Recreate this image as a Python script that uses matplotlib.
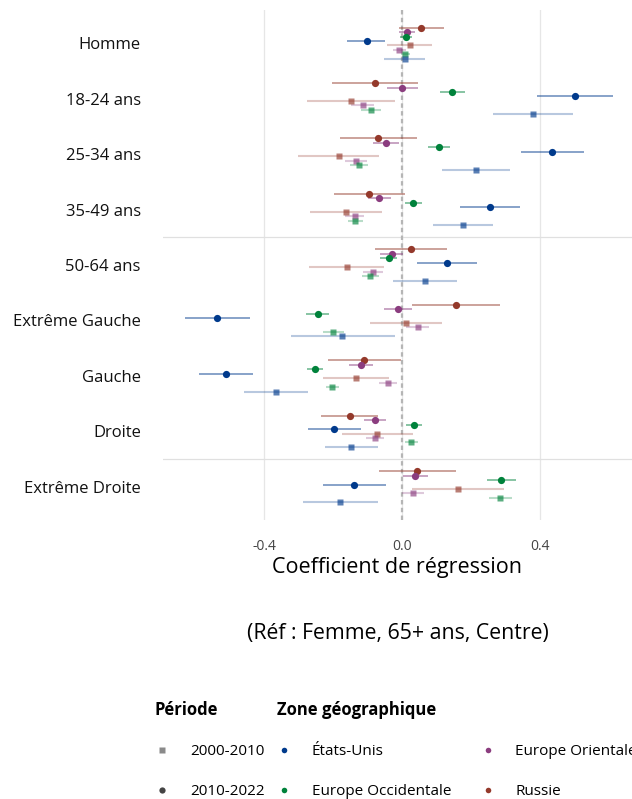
import numpy as np
import matplotlib.pyplot as plt
from matplotlib.lines import Line2D

plt.rcParams['font.family'] = ['Open Sans', 'DejaVu Sans']

categories = ['Homme', '18-24 ans', '25-34 ans', '35-49 ans', '50-64 ans',
              'Extrême Gauche', 'Gauche', 'Droite', 'Extrême Droite']

zones = ['États-Unis', 'Europe Occidentale', 'Europe Orientale', 'Russie']
zone_colors = {'États-Unis': '#003a8c', 'Europe Occidentale': '#00823b',
               'Europe Orientale': '#8b3d7f', 'Russie': '#94392b'}
periods = ['2000-2010', '2010-2022']

# coefficients and 95% intervals, one entry per category
us_2010 = [-0.103, 0.503, 0.437, 0.256, 0.130, -0.537, -0.512, -0.198, -0.139]
us_2010_lo = [-0.159, 0.394, 0.346, 0.169, 0.044, -0.630, -0.591, -0.273, -0.230]
us_2010_hi = [-0.048, 0.615, 0.528, 0.344, 0.217, -0.443, -0.433, -0.119, -0.047]
us_2000 = [0.008, 0.382, 0.216, 0.178, 0.066, -0.173, -0.367, -0.148, -0.179]
us_2000_lo = [-0.051, 0.265, 0.117, 0.091, -0.027, -0.322, -0.459, -0.224, -0.289]
us_2000_hi = [0.068, 0.498, 0.315, 0.266, 0.160, -0.021, -0.274, -0.071, -0.071]

ew_2010 = [0.013, 0.146, 0.108, 0.032, -0.039, -0.245, -0.253, 0.034, 0.289]
ew_2010_lo = [-0.005, 0.111, 0.077, 0.009, -0.063, -0.279, -0.275, 0.011, 0.248]
ew_2010_hi = [0.030, 0.182, 0.139, 0.058, -0.014, -0.211, -0.229, 0.059, 0.331]
ew_2000 = [0.010, -0.090, -0.124, -0.136, -0.092, -0.200, -0.203, 0.027, 0.286]
ew_2000_lo = [-0.004, -0.118, -0.150, -0.158, -0.115, -0.229, -0.222, 0.008, 0.252]
ew_2000_hi = [0.023, -0.061, -0.099, -0.112, -0.068, -0.170, -0.183, 0.048, 0.321]

eo_2010 = [0.014, 0.001, -0.047, -0.068, -0.030, -0.013, -0.119, -0.078, 0.038]
eo_2010_lo = [-0.010, -0.044, -0.084, -0.100, -0.063, -0.052, -0.154, -0.111, 0.002]
eo_2010_hi = [0.037, 0.047, -0.008, -0.033, 0.003, 0.028, -0.083, -0.045, 0.075]
eo_2000 = [-0.008, -0.113, -0.133, -0.137, -0.085, 0.046, -0.041, -0.079, 0.032]
eo_2000_lo = [-0.025, -0.148, -0.165, -0.165, -0.114, 0.013, -0.067, -0.104, 0.001]
eo_2000_hi = [0.011, -0.080, -0.101, -0.109, -0.056, 0.079, -0.014, -0.053, 0.064]

ru_2010 = [0.056, -0.079, -0.069, -0.095, 0.027, 0.157, -0.110, -0.152, 0.045]
ru_2010_lo = [-0.009, -0.204, -0.179, -0.198, -0.077, 0.030, -0.215, -0.235, -0.067]
ru_2010_hi = [0.121, 0.046, 0.043, 0.008, 0.131, 0.284, -0.004, -0.070, 0.156]
ru_2000 = [0.022, -0.148, -0.184, -0.163, -0.161, 0.012, -0.135, -0.072, 0.163]
ru_2000_lo = [-0.043, -0.277, -0.301, -0.268, -0.270, -0.093, -0.230, -0.175, 0.030]
ru_2000_hi = [0.087, -0.020, -0.067, -0.058, -0.052, 0.117, -0.039, 0.031, 0.297]

# drawn top to bottom inside each category
series = [
    ('Russie', '2010-2022', ru_2010, ru_2010_lo, ru_2010_hi),
    ('Europe Orientale', '2010-2022', eo_2010, eo_2010_lo, eo_2010_hi),
    ('Europe Occidentale', '2010-2022', ew_2010, ew_2010_lo, ew_2010_hi),
    ('États-Unis', '2010-2022', us_2010, us_2010_lo, us_2010_hi),
    ('Russie', '2000-2010', ru_2000, ru_2000_lo, ru_2000_hi),
    ('Europe Orientale', '2000-2010', eo_2000, eo_2000_lo, eo_2000_hi),
    ('Europe Occidentale', '2000-2010', ew_2000, ew_2000_lo, ew_2000_hi),
    ('États-Unis', '2000-2010', us_2000, us_2000_lo, us_2000_hi),
]

fig = plt.figure(figsize=(6.32, 7.99), dpi=100)
ax = fig.add_axes([163 / 632, 1 - 520 / 799, 469 / 632, 510 / 799])

y_base = -np.arange(len(categories))
step = 0.0807

for k, (zone, period, est, lo, hi) in enumerate(series):
    y = y_base + (3.5 - k) * step
    col = zone_colors[zone]
    if period == '2010-2022':
        ax.hlines(y, lo, hi, color=col, lw=1.2, alpha=0.55, zorder=3)
        ax.plot(est, y, 'o', color=col, ms=5.2, mec='none', zorder=5)
    else:
        ax.hlines(y, lo, hi, color=col, lw=1.5, alpha=0.28, zorder=3)
        ax.plot(est, y, 's', color=col, ms=4.2, mec='none', alpha=0.65, zorder=4)

# reference line and block separators
ax.axvline(0, color='#b5b5b5', lw=1.6, ls=(0, (2, 1.5)), zorder=2)
for sep in [-3.5, -7.5]:
    ax.axhline(sep, color='#e0e0e0', lw=0.9, zorder=1)

ax.set_xlim(-0.695, 0.669)
ax.set_ylim(-8.6, 0.6)
ax.set_xticks([-0.4, 0.0, 0.4])
ax.set_xticklabels(['-0.4', '0.0', '0.4'])
ax.grid(axis='x', color='#e6e6e6', lw=0.9)
ax.set_axisbelow(True)
ax.set_yticks(y_base)
ax.set_yticklabels(categories, fontsize=12, color='#111111')
ax.tick_params(axis='y', length=0, pad=16)
ax.tick_params(axis='x', length=0, pad=14, labelsize=10, labelcolor='#444444')
for s in ax.spines.values():
    s.set_visible(False)
ax.set_xlabel('Coefficient de régression', fontsize=15.5, labelpad=2)

fig.text(397.5 / 632, 1 - 634 / 799, '(Réf : Femme, 65+ ans, Centre)',
         ha='center', va='center', fontsize=15.3)

# legends
per_handles = [Line2D([], [], ls='none', marker='s', ms=4, color='#8a8a8a', mec='none'),
               Line2D([], [], ls='none', marker='o', ms=4.5, color='#444444', mec='none')]
leg1 = fig.legend(per_handles, periods, loc='upper left',
                  bbox_to_anchor=(147 / 632, 1 - 693 / 799), frameon=False,
                  title='Période', title_fontproperties={'weight': 'bold', 'size': 12},
                  alignment='left', fontsize=11, borderpad=0, labelspacing=1.65,
                  handlelength=1.0, handletextpad=1.3)
zone_handles = [Line2D([], [], ls='none', marker='o', ms=4, color=zone_colors[z], mec='none')
                for z in zones]
leg2 = fig.legend(zone_handles, zones, loc='upper left', ncol=2,
                  bbox_to_anchor=(269 / 632, 1 - 693 / 799), frameon=False,
                  title='Zone géographique',
                  title_fontproperties={'weight': 'bold', 'size': 12},
                  alignment='left', fontsize=11, borderpad=0, labelspacing=1.65,
                  handlelength=1.0, handletextpad=1.3, columnspacing=1.9)

fig.savefig('out.png', dpi=100)
